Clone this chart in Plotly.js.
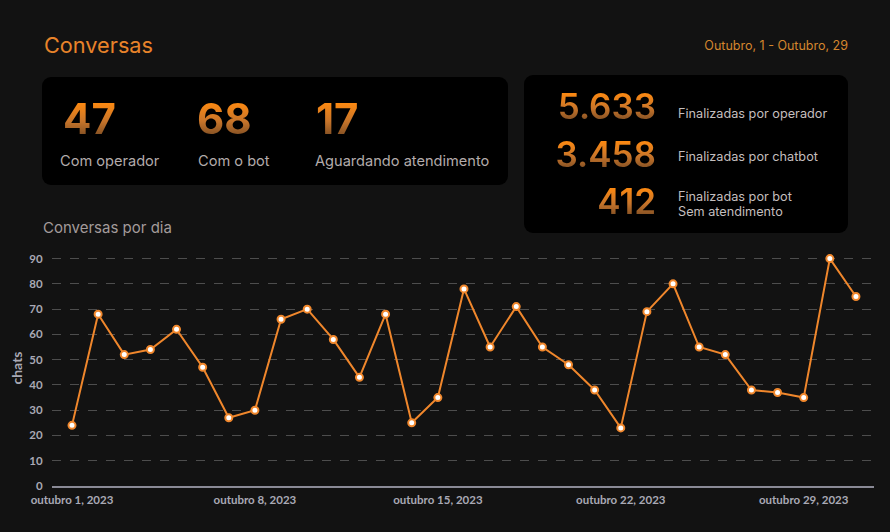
<!DOCTYPE html>
<html>
<head>
<meta charset="utf-8">
<script src="https://cdn.plot.ly/plotly-3.0.1.min.js"></script>
<style>
  html, body { margin:0; padding:0; background:#121212; width:890px; height:532px; overflow:hidden; font-family: Inter, "DM Sans", "Noto Sans", sans-serif; }
  #chart { position:absolute; left:0; top:0; width:890px; height:532px; }
  .abs { position:absolute; white-space:nowrap; }
  .card { position:absolute; background:#000; border-radius:9px; }
  .num { position:absolute; font-weight:700; line-height:1;
         background: linear-gradient(180deg, #ff8a10 10%, #c8752a 55%, #6e4522 100%);
         -webkit-background-clip:text; background-clip:text; color:transparent; }
  .lbl { position:absolute; color:#b3abab; line-height:1; white-space:nowrap; }
</style>
</head>
<body>
<div id="chart"></div>
<div id="overlay"></div>
<script>
// ---- data ----
const pageTitle = "Conversas";
const dateRange = "Outubro, 1 - Outubro, 29";
const chartTitle = "Conversas por dia";

const activeValues = ["47", "68", "17"];
const activeLabels = ["Com operador", "Com o bot", "Aguardando atendimento"];

const closedValues = ["5.633", "3.458", "412"];
const closedLabels = ["Finalizadas por operador", "Finalizadas por chatbot", "Finalizadas por bot<br>Sem atendimento"];

const dates = [
  "2023-10-01","2023-10-02","2023-10-03","2023-10-04","2023-10-05","2023-10-06","2023-10-07",
  "2023-10-08","2023-10-09","2023-10-10","2023-10-11","2023-10-12","2023-10-13","2023-10-14",
  "2023-10-15","2023-10-16","2023-10-17","2023-10-18","2023-10-19","2023-10-20","2023-10-21",
  "2023-10-22","2023-10-23","2023-10-24","2023-10-25","2023-10-26","2023-10-27","2023-10-28",
  "2023-10-29","2023-10-30","2023-10-31"
];
const chats = [24,68,52,54,62,47,27,30,66,70,58,43,68,25,35,78,55,71,55,48,38,23,69,80,55,52,38,37,35,90,75];

const tickDates = ["2023-10-01","2023-10-08","2023-10-15","2023-10-22","2023-10-29"];
const tickLabels = ["outubro 1, 2023","outubro 8, 2023","outubro 15, 2023","outubro 22, 2023","outubro 29, 2023"];
const yTicks = [0,10,20,30,40,50,60,70,80,90];

// ---- overlay (cards) ----
const ov = document.getElementById('overlay');
function add(html){ ov.insertAdjacentHTML('beforeend', html); }
add(`<div class="abs" style="left:44px;top:32px;font-size:21.7px;color:#e8832a;">${pageTitle}</div>`);
add(`<div class="abs" style="right:42px;top:38px;font-size:12.5px;color:#d4862e;">${dateRange}</div>`);
add(`<div class="card" style="left:42px;top:77px;width:466px;height:108px;"></div>`);
add(`<div class="card" style="left:524px;top:75px;width:324px;height:158px;"></div>`);
const xNum = [63, 197, 316], xLbl = [60, 198, 315];
activeValues.forEach((v,i)=>{
  add(`<div class="num" style="left:${xNum[i]}px;top:98px;font-size:42px;">${v}</div>`);
  add(`<div class="lbl" style="left:${xLbl[i]}px;top:154px;font-size:14.6px;">${activeLabels[i]}</div>`);
});
const yNum = [89, 137, 184], yLbl = [106, 149, 189];
closedValues.forEach((v,i)=>{
  add(`<div class="num" style="right:${890-656}px;top:${yNum[i]}px;font-size:35px;font-weight:600;">${v}</div>`);
  add(`<div class="lbl" style="left:678px;top:${yLbl[i]}px;font-size:12.7px;line-height:15px;color:#c4bebe;">${closedLabels[i]}</div>`);
});
add(`<div class="abs" style="left:43px;top:218px;font-size:15px;color:#a39b9b;">${chartTitle}</div>`);

// ---- chart ----
const orange = "#f0872c";
Plotly.newPlot('chart', [{
  x: dates, y: chats, type: 'scatter', mode: 'lines+markers',
  line: {color: orange, width: 2},
  marker: {size: 7, color: '#ffffff', line: {color: orange, width: 2}},
  hoverinfo: 'x+y'
}], {
  width: 890, height: 532,
  paper_bgcolor: 'rgba(0,0,0,0)', plot_bgcolor: 'rgba(0,0,0,0)',
  margin: {l: 52, r: 16, t: 250, b: 46},
  showlegend: false,
  xaxis: {
    type: 'date',
    range: ['2023-09-30 05:38', '2023-10-31 16:34'],
    tickmode: 'array', tickvals: tickDates, ticktext: tickLabels,
    showgrid: false, zeroline: false,
    showline: true, linecolor: '#8a8a96', linewidth: 2,
    ticks: 'outside', ticklen: 2, tickcolor: 'rgba(0,0,0,0)',
    tickfont: {family: 'Lato, "Open Sans", sans-serif', size: 11.5, color: '#a9a9b5', weight: 'bold'}
  },
  yaxis: {
    range: [0, 93.4],
    tickmode: 'array', tickvals: yTicks,
    showgrid: true, gridcolor: '#4d4d4d', griddash: 'dash', gridwidth: 1,
    zeroline: false, showline: false,
    ticks: 'outside', ticklen: 6, tickcolor: 'rgba(0,0,0,0)',
    tickfont: {family: 'Lato, "Open Sans", sans-serif', size: 11.5, color: '#a9a9b5', weight: 'bold'},
    title: {text: 'chats', standoff: 3, font: {family: 'Lato, "Open Sans", sans-serif', size: 14, color: '#a9a9b5', weight: 'bold'}}
  },
  shapes: [
    {type:'line', xref:'paper', yref:'y', x0:0, x1:0, y0:0, y1:-1.6, line:{color:'#8a8a96', width:1.5}},
    {type:'line', xref:'paper', yref:'y', x0:1, x1:1, y0:0, y1:-1.6, line:{color:'#8a8a96', width:1.5}}
  ]
}, {displayModeBar: false, staticPlot: true});
</script>
</body>
</html>
